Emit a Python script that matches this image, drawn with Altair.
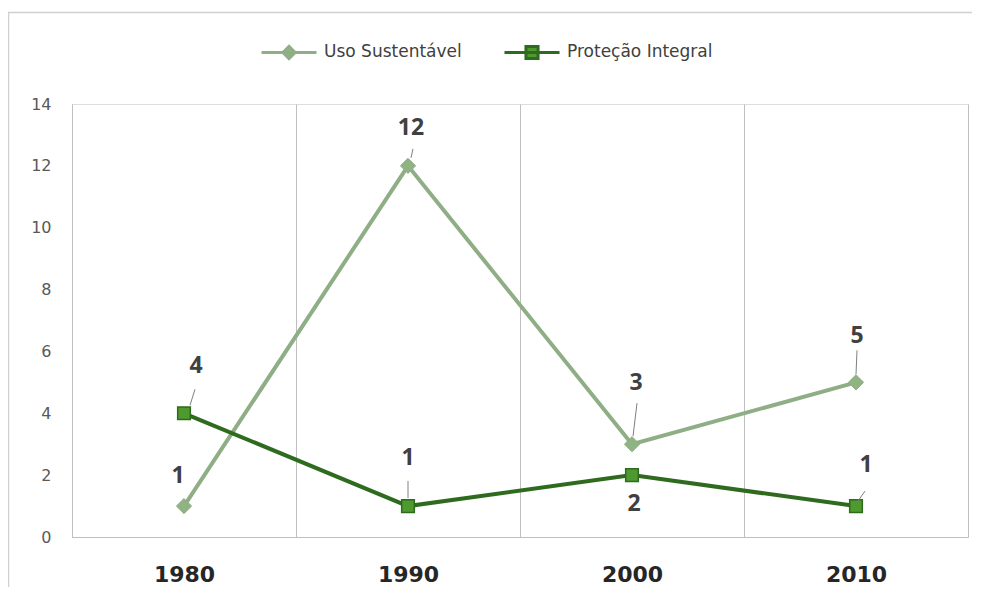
import altair as alt
import pandas as pd

# ---- data ----
years = ["1980", "1990", "2000", "2010"]
uso_sustentavel = [1, 12, 3, 5]
protecao_integral = [4, 1, 2, 1]
series = ["Uso Sustentável", "Proteção Integral"]

rows = []
for s, vals in zip(series, [uso_sustentavel, protecao_integral]):
    for y, v in zip(years, vals):
        rows.append({"year": y, "value": v, "series": s})
df = pd.DataFrame(rows)

# ---- style ----
US_LINE = "#8fae86"
US_FILL = "#8fb382"
PI_LINE = "#2e6b1e"
PI_FILL = "#4e9a2e"
TXT = "#404040"
GRID = "#bfbfbf"

W, H = 896, 433

x_enc = alt.X(
    "year:O",
    scale=alt.Scale(type="band", paddingInner=0, paddingOuter=0),
    axis=alt.Axis(
        title=None, tickBand="extent", grid=True, gridColor=GRID, gridWidth=1,
        ticks=False, domainColor=GRID, labelAngle=0, labelFont="DejaVu Sans",
        labelFontWeight="bold", labelFontSize=22, labelColor="#262626",
        labelPadding=27,
    ),
)
y_enc = alt.Y(
    "value:Q",
    scale=alt.Scale(domain=[0, 14], nice=False),
    axis=alt.Axis(
        title=None, values=list(range(0, 15, 2)), grid=False, ticks=False,
        domainColor=GRID, labelFont="DejaVu Sans", labelFontSize=16,
        labelColor="#595959", labelPadding=21,
    ),
)

base = alt.Chart(df)

line_us = base.transform_filter(alt.datum.series == series[0]).mark_line(
    color=US_LINE, strokeWidth=4
).encode(x=x_enc, y=y_enc)
line_pi = base.transform_filter(alt.datum.series == series[1]).mark_line(
    color=PI_LINE, strokeWidth=4
).encode(x=x_enc, y=y_enc)

pts_us = base.transform_filter(alt.datum.series == series[0]).mark_point(
    shape="diamond", size=230, filled=True, fill=US_FILL, stroke=US_LINE,
    strokeWidth=1, opacity=1
).encode(x=x_enc, y=y_enc)
pts_pi = base.transform_filter(alt.datum.series == series[1]).mark_point(
    shape="square", size=160, filled=True, fill=PI_FILL, stroke=PI_LINE,
    strokeWidth=1.5, opacity=1
).encode(x=x_enc, y=y_enc)

# legend (drawn by the library from an empty layer)
path_us = "M-1,0L1,0M-0.22,0L0,-0.22L0.22,0L0,0.22Z"
path_pi = "M-1,0L1,0M-0.22,-0.22L0.22,-0.22L0.22,0.22L-0.22,0.22Z"
leg = dict(
    orient="none", legendX=188, legendY=-81, direction="horizontal", title=None,
    symbolSize=3025, symbolStrokeWidth=3, symbolOpacity=1,
    labelFont="DejaVu Sans", labelFontSize=17, labelColor=TXT,
    labelOffset=6, columnPadding=36,
)
legend_layer = base.transform_filter("false").mark_point(filled=True, opacity=1).encode(
    x=x_enc, y=y_enc,
    shape=alt.Shape("series:N", scale=alt.Scale(domain=series, range=[path_us, path_pi]), legend=alt.Legend(**leg)),
    fill=alt.Fill("series:N", scale=alt.Scale(domain=series, range=[US_FILL, PI_FILL]), legend=alt.Legend(**leg)),
    stroke=alt.Stroke("series:N", scale=alt.Scale(domain=series, range=[US_LINE, PI_LINE]), legend=alt.Legend(**leg)),
)

# data labels: placement style per point (dx, dy) and leader-line paths
label_style = {
    (series[0], "1980"): (-6, -30, None),
    (series[1], "1980"): (12, -47, "M6,-8L11,-24"),
    (series[0], "1990"): (3, -38, "M3,-8L5,-17"),
    (series[1], "1990"): (0, -48, "M0,-8L0,-25"),
    (series[0], "2000"): (4, -61, "M1,-8L5,-41"),
    (series[1], "2000"): (2, 29, None),
    (series[0], "2010"): (1, -46, "M0,-8L1,-32"),
    (series[1], "2010"): (10, -41, "M2,-5L9,-15"),
}

layers = []
for (s, yr), (dx, dy, lead) in label_style.items():
    sub = base.transform_filter((alt.datum.series == s) & (alt.datum.year == yr))
    if lead:
        layers.append(sub.mark_point(shape=lead, size=4, filled=False, stroke="#808080",
                                     strokeWidth=1, opacity=1).encode(x=x_enc, y=y_enc))
    layers.append(sub.mark_text(dx=dx, dy=dy, font="Open Sans", fontSize=23,
                                fontWeight="bold", color=TXT, baseline="middle",
                                align="center").encode(x=x_enc, y=y_enc, text="value:Q"))

frame = alt.Chart(pd.DataFrame({"a": [0]})).mark_rect(
    fillOpacity=0, stroke="#d0d0d0", strokeWidth=1.5
).encode(x=alt.value(-63.5), x2=alt.value(930), y=alt.value(-91.5), y2=alt.value(540))

chart = alt.layer(
    frame, legend_layer, line_us, line_pi, pts_us, pts_pi, *layers
).properties(
    width=W, height=H,
    autosize=alt.AutoSizeParams(type="none"),
    padding={"left": 64, "top": 96, "right": 4, "bottom": 50},
).configure_view(stroke=None).configure(background="white")

chart.save("out.html", embed_options={"renderer": "svg", "actions": False})
